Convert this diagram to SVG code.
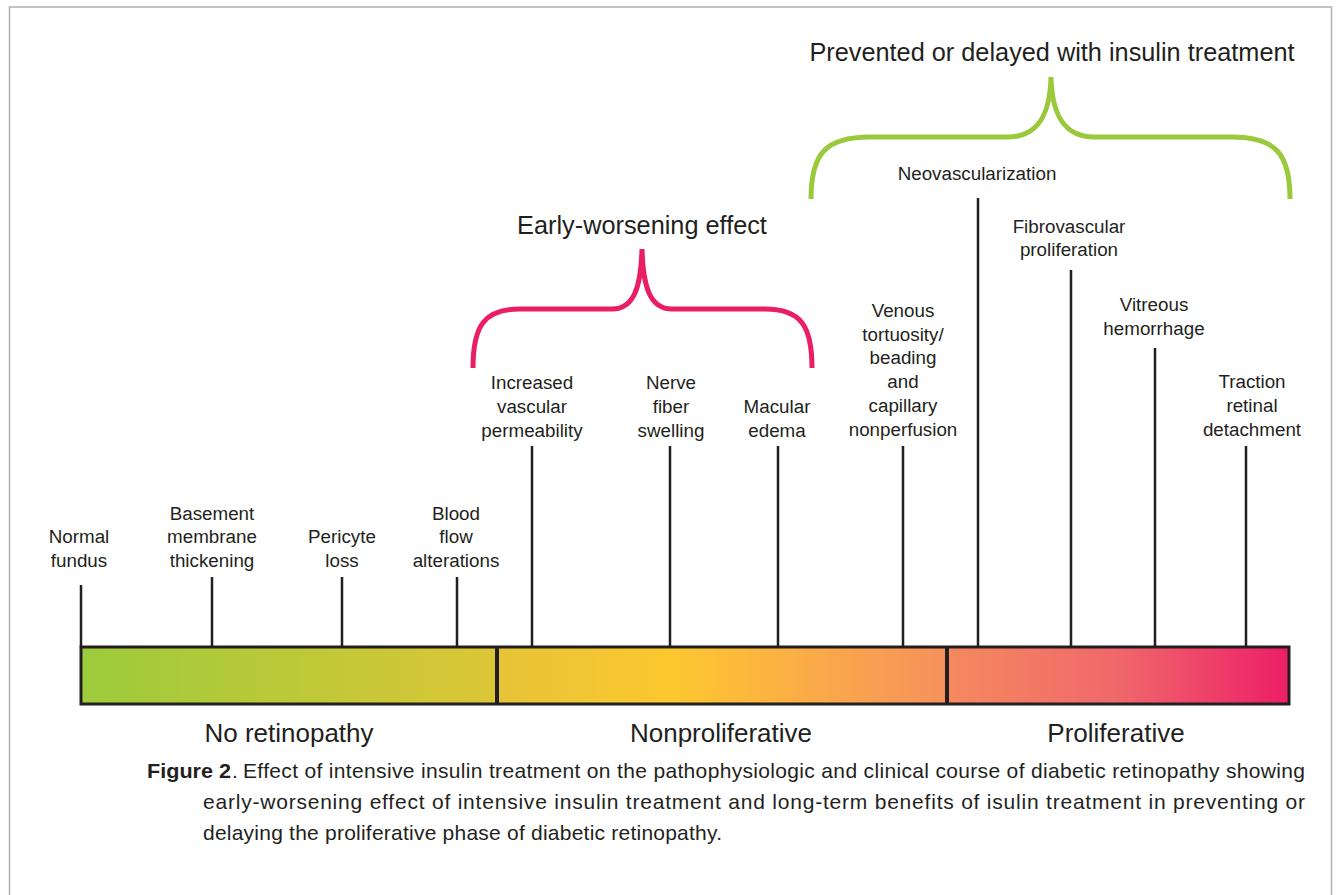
<svg xmlns="http://www.w3.org/2000/svg" width="1338" height="895" viewBox="0 0 1338 895">
<style>
.lbl{font-family:"Liberation Sans",Arial,sans-serif;font-size:18.8px;fill:#231f20;text-anchor:middle}
.big{font-family:"Liberation Sans",Arial,sans-serif;font-size:26px;fill:#231f20;text-anchor:middle}
.title{font-family:"Liberation Sans",Arial,sans-serif;font-size:25.3px;fill:#231f20;text-anchor:middle}
.cap{font-family:"Liberation Sans",Arial,sans-serif;font-size:21px;fill:#231f20}
.tick{stroke:#231f20;stroke-width:2.5;fill:none}
.brace{fill:none;stroke-width:5;stroke-linecap:butt}
</style>
<defs>
<linearGradient id="g" gradientUnits="userSpaceOnUse" x1="81" y1="0" x2="1289" y2="0">
<stop offset="0" stop-color="#9ccb3b"/>
<stop offset="0.344" stop-color="#dcc636"/>
<stop offset="0.346" stop-color="#e6c437"/>
<stop offset="0.49" stop-color="#fdc82f"/>
<stop offset="0.6" stop-color="#fbac47"/>
<stop offset="0.716" stop-color="#f6915c"/>
<stop offset="0.718" stop-color="#f5895f"/>
<stop offset="0.86" stop-color="#f0676b"/>
<stop offset="1" stop-color="#ec1e66"/>
</linearGradient>
</defs>
<rect x="0" y="0" width="1338" height="895" fill="#fff"/>
<rect x="9.5" y="7" width="1322" height="900" fill="none" stroke="#b0b0b0" stroke-width="1.5"/>

<g id="connectors">
<line class="tick" x1="81" y1="585" x2="81" y2="647"/>
<line class="tick" x1="212" y1="577" x2="212" y2="647"/>
<line class="tick" x1="342" y1="577" x2="342" y2="647"/>
<line class="tick" x1="457" y1="577" x2="457" y2="647"/>
<line class="tick" x1="532" y1="446" x2="532" y2="647"/>
<line class="tick" x1="670" y1="446" x2="670" y2="647"/>
<line class="tick" x1="778" y1="446" x2="778" y2="647"/>
<line class="tick" x1="903" y1="446" x2="903" y2="647"/>
<line class="tick" x1="978" y1="198" x2="978" y2="647"/>
<line class="tick" x1="1071" y1="270" x2="1071" y2="647"/>
<line class="tick" x1="1155" y1="348" x2="1155" y2="647"/>
<line class="tick" x1="1246" y1="446" x2="1246" y2="647"/>
</g>

<g id="bar">
<rect x="81" y="647" width="1208" height="57" fill="url(#g)" stroke="#231f20" stroke-width="3"/>
<line x1="497" y1="647" x2="497" y2="704" stroke="#231f20" stroke-width="4"/>
<line x1="947" y1="647" x2="947" y2="704" stroke="#231f20" stroke-width="4"/>
</g>

<g id="brace-early">
<path class="brace" stroke="#ea1e63" d="M473,368 C473,326 484,309 520,309 L612,309 C634,309 641,287 642,249 C643,287 650,309 672,309 L765,309 C801,309 812,326 812,368"/>
<text class="title" x="642" y="234">Early-worsening effect</text>
</g>

<g id="brace-prevented">
<path class="brace" stroke="#9bc93c" d="M811,199 C811,153 826,137 870,137 L1008,137 C1038,137 1050,115 1051,77 C1052,115 1064,137 1094,137 L1232,137 C1275,137 1290,153 1290,199"/>
<text class="title" x="1052" y="61">Prevented or delayed with insulin treatment</text>
</g>

<g id="n-normal"><text class="lbl" x="79" y="543">Normal</text><text class="lbl" x="79" y="567">fundus</text></g>
<g id="n-basement"><text class="lbl" x="212" y="520">Basement</text><text class="lbl" x="212" y="543">membrane</text><text class="lbl" x="212" y="567">thickening</text></g>
<g id="n-pericyte"><text class="lbl" x="342" y="543">Pericyte</text><text class="lbl" x="342" y="567">loss</text></g>
<g id="n-blood"><text class="lbl" x="456" y="520">Blood</text><text class="lbl" x="456" y="543">flow</text><text class="lbl" x="456" y="567">alterations</text></g>
<g id="n-increased"><text class="lbl" x="532" y="389">Increased</text><text class="lbl" x="532" y="413">vascular</text><text class="lbl" x="532" y="437">permeability</text></g>
<g id="n-nerve"><text class="lbl" x="671" y="389">Nerve</text><text class="lbl" x="671" y="413">fiber</text><text class="lbl" x="671" y="437">swelling</text></g>
<g id="n-macular"><text class="lbl" x="777" y="413">Macular</text><text class="lbl" x="777" y="437">edema</text></g>
<g id="n-venous"><text class="lbl" x="903" y="317">Venous</text><text class="lbl" x="903" y="341">tortuosity/</text><text class="lbl" x="903" y="364">beading</text><text class="lbl" x="903" y="388">and</text><text class="lbl" x="903" y="412">capillary</text><text class="lbl" x="903" y="436">nonperfusion</text></g>
<g id="n-neo"><text class="lbl" x="977" y="180">Neovascularization</text></g>
<g id="n-fibro"><text class="lbl" x="1069" y="233">Fibrovascular</text><text class="lbl" x="1069" y="256">proliferation</text></g>
<g id="n-vitreous"><text class="lbl" x="1154" y="311">Vitreous</text><text class="lbl" x="1154" y="335">hemorrhage</text></g>
<g id="n-traction"><text class="lbl" x="1252" y="388">Traction</text><text class="lbl" x="1252" y="412">retinal</text><text class="lbl" x="1252" y="436">detachment</text></g>

<g id="phases">
<text class="big" x="289" y="742">No retinopathy</text>
<text class="big" x="721" y="742">Nonproliferative</text>
<text class="big" x="1116" y="742">Proliferative</text>
</g>

<g id="caption">
<text class="cap" x="147" y="778" font-weight="bold" textLength="84" lengthAdjust="spacingAndGlyphs">Figure 2</text>
<text class="cap" x="232" y="778">.</text>
<text class="cap" x="243" y="778" textLength="1062" lengthAdjust="spacing">Effect of intensive insulin treatment on the pathophysiologic and clinical course of diabetic retinopathy showing</text>
<text class="cap" x="203" y="809" textLength="1102" lengthAdjust="spacing">early-worsening effect of intensive insulin treatment and long-term benefits of isulin treatment in preventing or</text>
<text class="cap" x="203" y="840" textLength="519" lengthAdjust="spacing">delaying the proliferative phase of diabetic retinopathy.</text>
</g>
</svg>
